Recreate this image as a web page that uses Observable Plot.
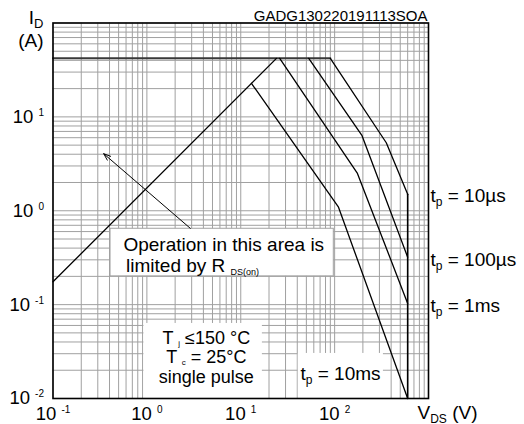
<!DOCTYPE html>
<html><head><meta charset="utf-8">
<script src="https://cdn.jsdelivr.net/npm/d3@7"></script>
<script src="https://cdn.jsdelivr.net/npm/@observablehq/plot@0.6"></script>
<style>body{margin:0;background:#fff} svg{display:block}</style>
</head><body><div id="chart"></div>
<script>
// ---- axes ----
const xTicks = [0.1, 1, 10, 100];
const xExps = ["-1", "0", "1", "2"];
const yTicks = [0.01, 0.1, 1, 10];
const yExps = ["-2", "-1", "0", "1"];
const gridMultiples = [1, 2, 3, 4, 5, 6, 7, 8, 9];
const xDecades = [0.1, 1, 10, 100];
const yDecades = [0.01, 0.1, 1, 10];

// ---- SOA boundaries ----
const limitV = [0.1, 90];
const limitI = [42, 42];
const rdsV = [0.1, 24];
const rdsI = [0.175, 42];
const breakV = [600, 600];
const breakI = [1.5, 0.01];

const pulses = ["10µs", "100µs", "1ms", "10ms"];
const pulseV = [[90, 355, 600], [53, 196, 600], [26, 175, 600], [13, 110, 600]];
const pulseI = [[42, 5.3, 1.5], [42, 6.3, 0.32], [42, 2.5, 0.103], [22.8, 1.09, 0.01]];

// right-hand pulse labels (baseline current)
const rightLabelI = [1.226, 0.255, 0.0826];
const innerLabelV = [43.3];
const innerLabelI = [0.0156];

// annotation boxes
const opBoxV = [0.41, 98], opBoxI = [0.2, 0.643];
const tjBoxV = [0.93, 17], tjBoxI = [0.01, 0.063];
const tpBoxV = [41, 331], tpBoxI = [0.01, 0.0302];

// arrow
const arrowFrom = [2.9, 0.65];
const arrowTo = [0.347, 4.05];

const opLines = ["Operation in this area is", "limited by R _9{DS(on)}"];
const opLineV = [0.563, 0.6];
const opLineI = [0.369, 0.225];
const tjLines = ["T _8{j} ≤150 °C", "T _8{c} = 25°C", "single pulse"];
const tjLineV = 4.3;
const tjLineI = [0.0385, 0.0236, 0.0145];

const grid = (decades, top) => decades.flatMap(d => gridMultiples.map(m => m * d)).concat([top]);
const xGrid = grid(xDecades, 1000);
const yGrid = grid(yDecades, 100);

const curves = pulses.flatMap((p, k) => pulseV[k].map((v, j) => ({p, v, i: pulseI[k][j]})));
const pairs = (vs, is) => vs.map((v, j) => ({v, i: is[j]}));
const box = (vs, is) => ({x1: vs[0], x2: vs[1], y1: is[0], y2: is[1]});

const F = 19;
const plot = Plot.plot({
  width: 524, height: 424,
  marginLeft: 52.5, marginRight: 96, marginTop: 22.5, marginBottom: 26,
  style: {fontFamily: "'Liberation Sans', Arial, sans-serif", background: "white", color: "black"},
  x: {type: "log", domain: [0.1, 1000], axis: null},
  y: {type: "log", domain: [0.01, 100], axis: null},
  marks: [
    Plot.ruleX(xGrid, {x: d => d, stroke: "#a0a0a0", strokeWidth: 1}),
    Plot.ruleY(yGrid, {y: d => d, stroke: "#a0a0a0", strokeWidth: 1}),
    Plot.rect([box(opBoxV, opBoxI)], {x1: "x1", x2: "x2", y1: "y1", y2: "y2", fill: "white", stroke: "#a0a0a0", strokeWidth: 1}),
    Plot.rect([box(tjBoxV, tjBoxI), box(tpBoxV, tpBoxI)], {x1: "x1", x2: "x2", y1: "y1", y2: "y2", fill: "white"}),
    Plot.line(pairs(limitV, limitI), {x: "v", y: "i", stroke: "#3a3a3a", strokeWidth: 2}),
    Plot.line(pairs(rdsV, rdsI), {x: "v", y: "i", stroke: "black", strokeWidth: 1.3}),
    Plot.line(curves, {x: "v", y: "i", z: "p", stroke: "black", strokeWidth: 1.3}),
    Plot.line(pairs(breakV, breakI), {x: "v", y: "i", stroke: "black", strokeWidth: 1.6}),
    Plot.arrow([0], {x1: () => arrowFrom[0], y1: () => arrowFrom[1], x2: () => arrowTo[0], y2: () => arrowTo[1],
      stroke: "black", strokeWidth: 1, headLength: 11, headAngle: 40}),
    Plot.frame({stroke: "black", strokeWidth: 1.6}),
    // tick labels
    Plot.text(xTicks, {x: d => d, text: (d, j) => `10 ^10{${xExps[j]}}`, frameAnchor: "bottom", lineAnchor: "bottom", dy: 21.5, fontSize: 18.5}),
    Plot.text(yTicks, {y: d => d, text: (d, j) => `10 ^10{${yExps[j]}}`, frameAnchor: "left", textAnchor: "end", dx: -9, fontSize: 18.5}),
    // axis titles
    Plot.text(["I_13{D}"], {frameAnchor: "top-left", textAnchor: "end", lineAnchor: "bottom", dx: -9.5, dy: 0.8, fontSize: F}),
    Plot.text(["(A)"], {frameAnchor: "top-left", textAnchor: "end", lineAnchor: "bottom", dx: -9.5, dy: 24, fontSize: F}),
    Plot.text(["V_12{DS} (V)"], {frameAnchor: "bottom-right", textAnchor: "start", lineAnchor: "bottom", dx: -11, dy: 20, fontSize: F}),
    Plot.text(["GADG130220191113SOA"], {frameAnchor: "top-right", textAnchor: "end", lineAnchor: "bottom", dx: -1, dy: -2, fontSize: 15}),
    // pulse labels
    Plot.text(rightLabelI, {y: d => d, text: (d, j) => `t_12{p} = ${pulses[j]}`, frameAnchor: "right", textAnchor: "start", lineAnchor: "bottom", dx: 2, fontSize: F}),
    Plot.text(innerLabelV, {x: d => d, y: (d, j) => innerLabelI[j], text: () => `t_12{p} = ${pulses[3]}`, textAnchor: "start", lineAnchor: "bottom", fontSize: F}),
    // annotations
    Plot.text(opLines, {x: (d, j) => opLineV[j], y: (d, j) => opLineI[j], text: d => d, textAnchor: "start", lineAnchor: "bottom", fontSize: F}),
    Plot.text(tjLines, {x: () => tjLineV, y: (d, j) => tjLineI[j], text: d => d, textAnchor: "middle", lineAnchor: "bottom", fontSize: 18})
  ]
});

// rich text: _size{sub} and ^size{sup}
const svgNS = "http://www.w3.org/2000/svg";
function richify(el) {
  const s = el.textContent;
  if (!/[_^]\d*\{/.test(s)) return;
  const re = /([_^])(\d*)\{([^}]*)\}/g;
  el.textContent = "";
  let last = 0, shift = 0, m;
  const add = (txt, size, d) => {
    const t = document.createElementNS(svgNS, "tspan");
    t.setAttribute("dy", d - shift); shift = d;
    if (size) t.setAttribute("font-size", size);
    t.textContent = txt; el.appendChild(t);
  };
  while ((m = re.exec(s))) {
    if (m.index > last) add(s.slice(last, m.index), null, 0);
    const sub = m[1] === "_";
    const size = m[2] ? +m[2] : (sub ? 12 : 10.5);
    add(m[3], size, sub ? Math.round(size * 0.3) : -Math.round(size * 0.65));
    last = re.lastIndex;
  }
  if (last < s.length) add(s.slice(last), null, 0);
}
plot.querySelectorAll("text").forEach(richify);
document.getElementById("chart").appendChild(plot);
</script>
</body></html>
